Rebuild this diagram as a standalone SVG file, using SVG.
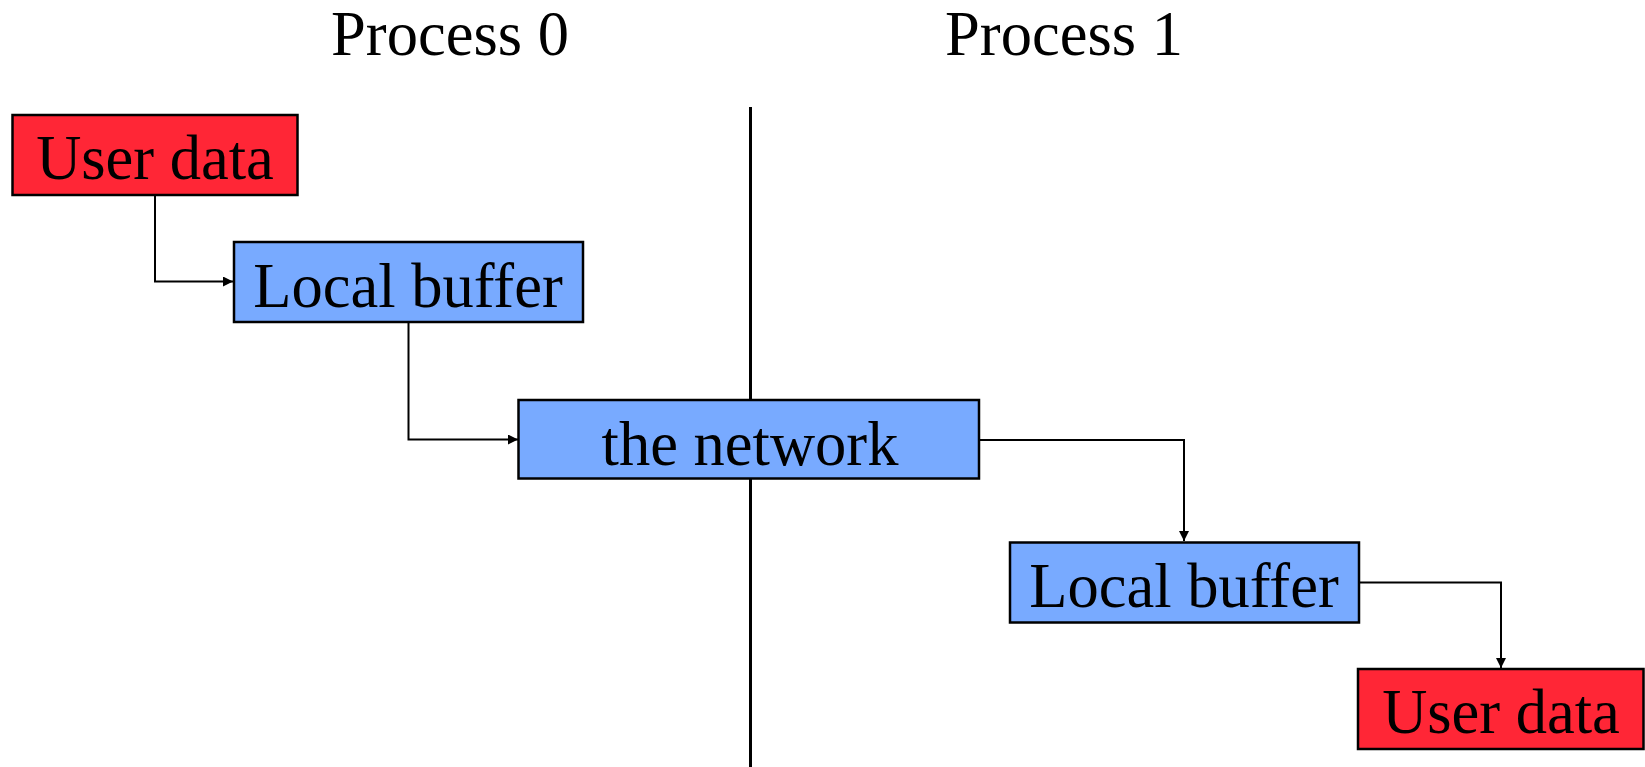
<svg xmlns="http://www.w3.org/2000/svg" width="1645" height="767" viewBox="0 0 1645 767">
<style>
  text { font-family: "Liberation Serif", "Times New Roman", serif; font-size: 62.5px; fill: #000; text-anchor: middle; }
  .red { fill: #FF2636; stroke: #000; stroke-width: 2.5; }
  .blue { fill: #78AAFF; stroke: #000; stroke-width: 2.5; }
  .conn { fill: none; stroke: #000; stroke-width: 2; marker-end: url(#arrow); }
</style>
<defs>
  <marker id="arrow" viewBox="0 0 10 10" refX="10" refY="5" markerUnits="userSpaceOnUse" markerWidth="11" markerHeight="10" orient="auto">
    <path d="M0,0 L10,5 L0,10 z" fill="#000"/>
  </marker>
</defs>
<rect width="1645" height="767" fill="#fff"/>
<g id="titles">
  <text x="450" y="55">Process 0</text>
  <text x="1064" y="55">Process 1</text>
</g>
<g id="divider">
  <line x1="750.5" y1="107" x2="750.5" y2="767" stroke="#000" stroke-width="3"/>
</g>
<g id="connectors">
  <path class="conn" d="M155,195 V281.5 H233"/>
  <path class="conn" d="M408.5,322 V439.5 H518"/>
  <path class="conn" d="M979,440 H1184 V541"/>
  <path class="conn" d="M1359,582.5 H1501 V668"/>
</g>
<g id="user-data-0">
  <rect class="red" x="12.5" y="115" width="285" height="80"/>
  <text x="155" y="179">User data</text>
</g>
<g id="local-buffer-0">
  <rect class="blue" x="234" y="242" width="349" height="80"/>
  <text x="408" y="306.5">Local buffer</text>
</g>
<g id="network">
  <rect class="blue" x="518.5" y="400" width="460.5" height="78.5"/>
  <text x="750" y="465">the network</text>
</g>
<g id="local-buffer-1">
  <rect class="blue" x="1010" y="542.5" width="349" height="80"/>
  <text x="1184" y="606.5">Local buffer</text>
</g>
<g id="user-data-1">
  <rect class="red" x="1358" y="669" width="285.5" height="80"/>
  <text x="1501" y="733">User data</text>
</g>
</svg>
